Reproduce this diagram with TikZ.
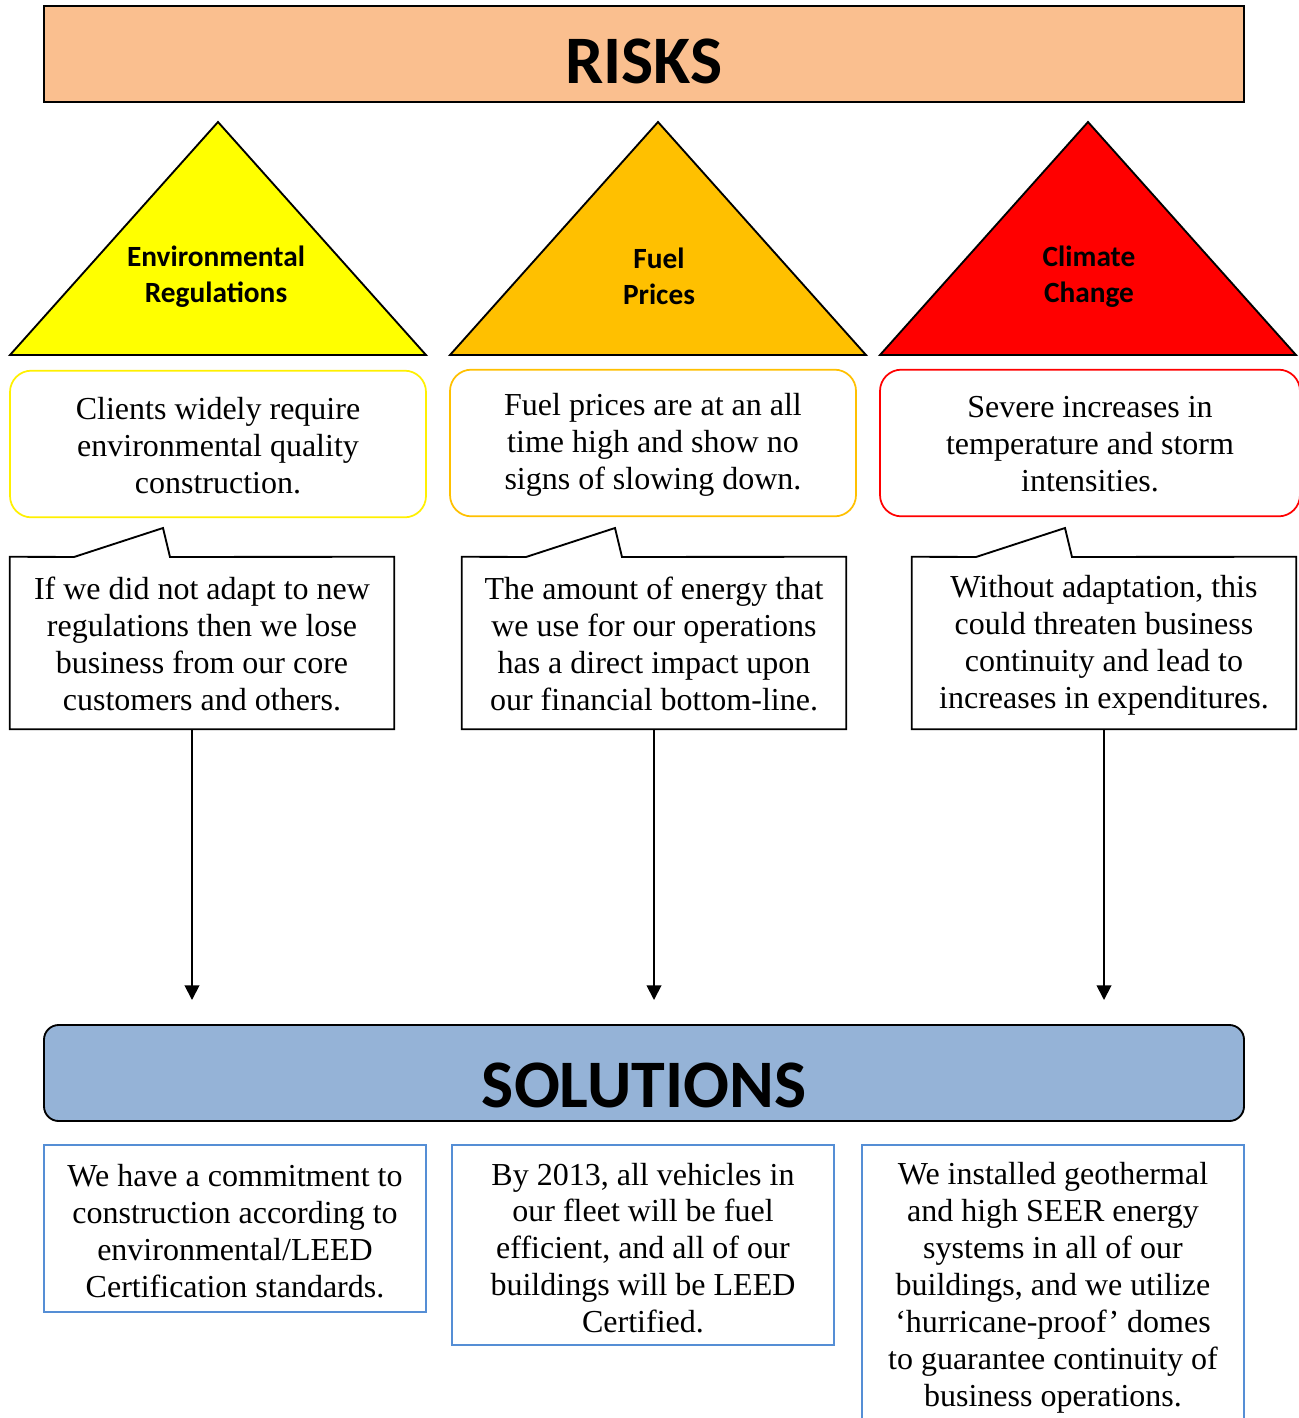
\documentclass[tikz,border=0pt]{standalone}
\usepackage{fontspec}
\setmainfont{Liberation Serif}
\newfontfamily\calibri{Carlito}
\usetikzlibrary{arrows.meta}
\definecolor{riskfill}{RGB}{250,191,143}
\definecolor{solfill}{RGB}{149,179,215}
\definecolor{solline}{RGB}{85,142,213}
\definecolor{tyellow}{RGB}{255,255,0}
\definecolor{torange}{RGB}{255,192,0}
\definecolor{tred}{RGB}{255,0,0}
\definecolor{byellow}{RGB}{255,240,0}
\begin{document}
\begin{tikzpicture}[x=0.75pt,y=-0.75pt,
  outline/.style={draw=black,line width=1.4pt},
  bodytext/.style={font=\fontsize{24}{27.7}\selectfont,align=center,inner sep=0pt},
  trilabel/.style={font=\calibri\bfseries\fontsize{22}{27}\selectfont,align=center,inner sep=0pt},
  titletext/.style={font=\calibri\bfseries\fontsize{51}{60}\selectfont,inner sep=0pt,anchor=base},
  riskbox/.style={rectangle,outline,fill=riskfill,minimum width=900pt,minimum height=72pt,inner sep=0pt},
  solbox/.style={rectangle,outline,fill=solfill,rounded corners=11pt,minimum width=900pt,minimum height=72pt,inner sep=0pt},
  descbox/.style={bodytext,rectangle,rounded corners=16pt,line width=1.3pt,fill=white,minimum height=110pt},
  callbox/.style={bodytext,rectangle,minimum width=288pt,minimum height=129pt},
  answerbox/.style={bodytext,rectangle,draw=solline,line width=1.4pt,fill=white,minimum width=286.5pt},
  arr/.style={line width=1.4pt,-{Triangle[length=11pt,width=11pt]}}
]
\useasboundingbox (0,0) rectangle (1299,1418);
\clip (0,0) rectangle (1299,1418);

% RISKS header
\node[riskbox] (risks) at (644,54) {};
\node[titletext] (riskslbl) at (644,83) {RISKS};

% triangles
\filldraw[outline,fill=tyellow,line join=miter] (10,355) -- (218,122) -- (426,355) -- cycle;
\filldraw[outline,fill=torange,line join=miter] (450,355) -- (658,122) -- (866,355) -- cycle;
\filldraw[outline,fill=tred,line join=miter] (880,355) -- (1088,122) -- (1296,355) -- cycle;
\node[trilabel] (t1) at (216,277) {Environmental\\Regulations};
\node[trilabel] (t2) at (659,276) {Fuel\\Prices};
\node[trilabel] (t3) at (1089,277) {Climate\\Change};

% description boxes
\node[descbox,draw=byellow,minimum width=312pt] (d1) at (218,444) {};
\node[bodytext] (d1t) at (218,446) {Clients widely require\\environmental quality\\construction.};
\node[descbox,draw=torange,minimum width=304.5pt] (d2) at (653,443) {};
\node[bodytext] (d2t) at (653,445) {Fuel prices are at an all\\time high and show no\\signs of slowing down.};
\node[descbox,draw=tred,minimum width=315pt] (d3) at (1090,443) {};
\node[bodytext] (d3t) at (1090,444) {Severe increases in\\temperature and storm\\intensities.};

% callouts
\node[callbox] (c1) at (202,643) {};
\node[callbox] (c2) at (654,643) {};
\node[callbox] (c3) at (1104,643) {};
\draw[outline,line join=miter] (c1.north west) -- (74,557) -- (163,528) -- (170,557) -- (c1.north east) -- (c1.south east) -- (c1.south west) -- cycle;
\draw[outline,line join=miter] (c2.north west) -- (526,557) -- (615,528) -- (622,557) -- (c2.north east) -- (c2.south east) -- (c2.south west) -- cycle;
\draw[outline,line join=miter] (c3.north west) -- (976,557) -- (1065,528) -- (1072,557) -- (c3.north east) -- (c3.south east) -- (c3.south west) -- cycle;
\node[bodytext] (c1t) at (202,644)
  {If we did not adapt to new\\regulations then we lose\\business from our core\\customers and others.};
\node[bodytext] (c2t) at (654,644)
  {The amount of energy that\\we use for our operations\\has a direct impact upon\\our financial bottom-line.};
\node[bodytext] (c3t) at (1104,645)
  {Without adaptation, this\\could threaten business\\continuity and lead to\\increases in expenditures.};

% arrows
\coordinate (a1) at (192,1000);
\coordinate (a2) at (654,1000);
\coordinate (a3) at (1104,1000);
\draw[arr] (c1.south -| a1) -- (a1);
\draw[arr] (c2.south -| a2) -- (a2);
\draw[arr] (c3.south -| a3) -- (a3);

% SOLUTIONS header
\node[solbox] (sol) at (644,1073) {};
\node[titletext] (sollbl) at (644,1107) {SOLUTIONS};

% solution boxes
\node[answerbox,minimum height=125.25pt] (s1) at (235,1228.5) {};
\node[bodytext] (s1t) at (235,1231)
  {We have a commitment to\\construction according to\\environmental/LEED\\Certification standards.};
\node[answerbox,minimum height=150pt] (s2) at (643,1245) {};
\node[bodytext] (s2t) at (643,1248)
  {By 2013, all vehicles in\\our fleet will be fuel\\efficient, and all of our\\buildings will be LEED\\Certified.};
\node[answerbox,minimum height=211.5pt] (s3) at (1053,1286) {};
\node[bodytext] (s3t) at (1053,1288)
  {We installed geothermal\\and high SEER energy\\systems in all of our\\buildings, and we utilize\\‘hurricane-proof’ domes\\to guarantee continuity of\\business operations.};
\end{tikzpicture}
\end{document}
